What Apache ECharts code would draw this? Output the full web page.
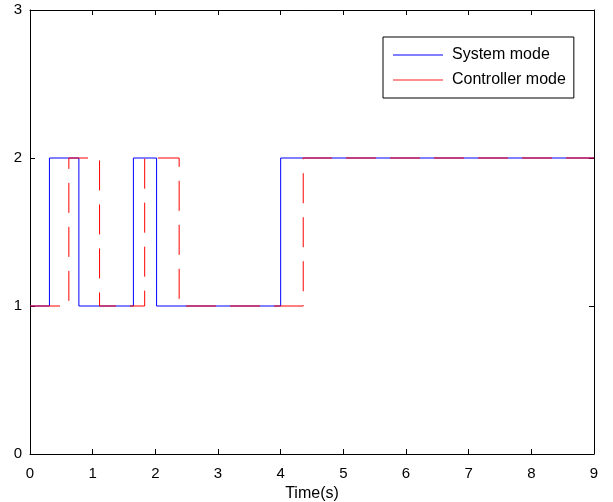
<!DOCTYPE html>
<html><head><meta charset="utf-8">
<script src="https://cdn.jsdelivr.net/npm/echarts@6/dist/echarts.min.js"></script>
<style>html,body{margin:0;padding:0;background:#fff}#c{width:613px;height:502px}</style>
</head><body><div id="c"></div>
<script>
const sysT = [0, 0.31, 0.78, 1.65, 2.02, 4.0, 9];
const sysV = [1, 2, 1, 2, 1, 2, 2];
const ctrlT = [0, 0.62, 1.11, 1.83, 2.38, 4.36, 9];
const ctrlV = [1, 2, 1, 2, 1, 2, 2];
const xTicks = [0,1,2,3,4,5,6,7,8,9];
const yTicks = [0,1,2,3];
const seriesNames = ['System mode', 'Controller mode'];

const font = 'Liberation Sans, Arial, sans-serif';
const chart = echarts.init(document.getElementById('c'), null, {renderer:'canvas'});
const axisCommon = {
  axisLine:{show:true, onZero:false, lineStyle:{color:'#000', width:1}},
  axisTick:{show:true, inside:true, length:5, lineStyle:{color:'#000'}},
  splitLine:{show:false},
  axisLabel:{color:'#000', fontFamily:font, fontSize:15}
};
chart.setOption({
  animation:false,
  backgroundColor:'#fff',
  grid:{left:30, right:19, top:10, bottom:48, show:false, containLabel:false, outerBoundsMode:'none'},
  legend:{
    show:true, orient:'vertical', left:383, top:37,
    data: seriesNames,
    icon:'rect',
    backgroundColor:'#fff', borderColor:'#000', borderWidth:1,
    padding:[10,8,10,10], itemGap:9, itemWidth:50, itemHeight:1,
    textStyle:{color:'#000', fontFamily:font, fontSize:16, padding:[0,0,0,4], lineHeight:16}
  },
  xAxis:[
    Object.assign({type:'value', min:0, max:9, interval:1, position:'bottom',
      name:'Time(s)', nameLocation:'middle', nameGap:24,
      nameTextStyle:{color:'#000', fontFamily:font, fontSize:16}}, axisCommon,
      {axisLabel:{color:'#000', fontFamily:font, fontSize:15, margin:12}}),
    Object.assign({type:'value', min:0, max:9, interval:1, position:'top'}, axisCommon,
      {axisLabel:{show:false}})
  ],
  yAxis:[
    Object.assign({type:'value', min:0, max:3, interval:1, position:'left'}, axisCommon,
      {axisLabel:{color:'#000', fontFamily:font, fontSize:15, margin:8}}),
    Object.assign({type:'value', min:0, max:3, interval:1, position:'right'}, axisCommon,
      {axisLabel:{show:false}})
  ],
  series:[
    {name:seriesNames[0], type:'line', step:'end', symbol:'none', z:2,
     data: sysT.map((t,i)=>[t, sysV[i]]),
     lineStyle:{color:'#0000ff', width:1}, itemStyle:{color:'#0000ff'}},
    {name:seriesNames[1], type:'line', step:'end', symbol:'none', z:3,
     data: ctrlT.map((t,i)=>[t, ctrlV[i]]),
     lineStyle:{color:'#ff0000', width:1, type:[30,14]}, itemStyle:{color:'#ff2020'}}
  ]
});
</script></body></html>
